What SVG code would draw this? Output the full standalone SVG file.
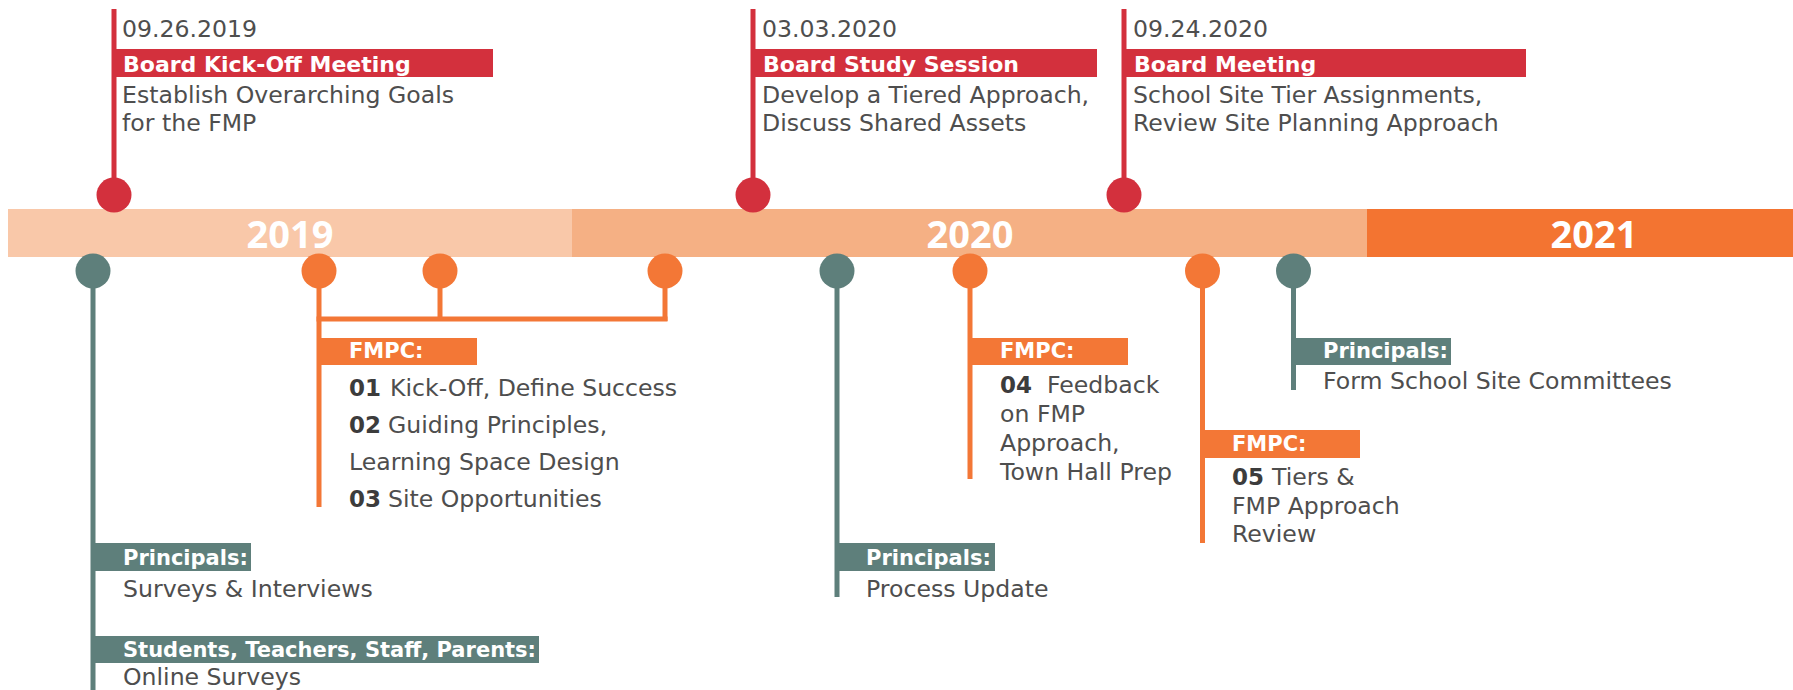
<svg xmlns="http://www.w3.org/2000/svg" width="1793" height="690" viewBox="0 0 1793 690">
<style>
.body{font-family:"DejaVu Sans","Liberation Sans",sans-serif;font-size:23.6px;fill:#4e4e4e}
.num{font-family:"DejaVu Sans","Liberation Sans",sans-serif;font-weight:bold;font-size:23px;fill:#3c3c3c}
.lbl{font-family:"DejaVu Sans","Liberation Sans",sans-serif;font-weight:bold;font-size:21px;fill:#ffffff}
.ttl{font-family:"DejaVu Sans","Liberation Sans",sans-serif;font-weight:bold;font-size:22px;fill:#ffffff}
.year{font-family:"Open Sans","Liberation Sans",sans-serif;font-weight:bold;font-size:38px;fill:#ffffff;text-anchor:middle}
.red{fill:#d3303d}.org{fill:#f37736}.gry{fill:#5e7f7b}
.lr{stroke:#d3303d;stroke-width:5;fill:none}
.lo{stroke:#f37736;stroke-width:5;fill:none}
.lg{stroke:#5e7f7b;stroke-width:5;fill:none}
</style>
<rect width="1793" height="690" fill="#ffffff"/>
<g id="connectors">
<line class="lr" x1="114" y1="9" x2="114" y2="190"/>
<line class="lr" x1="753" y1="9" x2="753" y2="190"/>
<line class="lr" x1="1124" y1="9" x2="1124" y2="190"/>
<line class="lg" x1="93" y1="275" x2="93" y2="690"/>
<line class="lo" x1="319" y1="275" x2="319" y2="507"/>
<line class="lo" x1="440" y1="275" x2="440" y2="319"/>
<line class="lo" x1="665" y1="275" x2="665" y2="321"/>
<line class="lo" x1="316.5" y1="319" x2="667.5" y2="319"/>
<line class="lg" x1="837" y1="275" x2="837" y2="597"/>
<line class="lo" x1="970" y1="275" x2="970" y2="479"/>
<line class="lo" x1="1202.5" y1="275" x2="1202.5" y2="543"/>
<line class="lg" x1="1293.5" y1="275" x2="1293.5" y2="390"/>
</g>
<g id="timeline">
<rect x="8" y="209" width="564" height="48" fill="#f9c8a9"/>
<rect x="572" y="209" width="795" height="48" fill="#f5b084"/>
<rect x="1367" y="209" width="426" height="48" fill="#f37431"/>
<text class="year" x="290" y="248">2019</text>
<text class="year" x="970" y="248">2020</text>
<text class="year" x="1594" y="248">2021</text>
</g>
<g id="event-board-kickoff">
<circle class="red" cx="114" cy="195" r="17.5"/>
<text class="body" x="122" y="37">09.26.2019</text>
<rect class="red" x="114" y="49" width="379" height="28"/>
<text class="ttl" x="123" y="72">Board Kick-Off Meeting</text>
<text class="body" x="122" y="103">Establish Overarching Goals</text>
<text class="body" x="122" y="131">for the FMP</text>
</g>
<g id="event-board-study">
<circle class="red" cx="753" cy="195" r="17.5"/>
<text class="body" x="762" y="37">03.03.2020</text>
<rect class="red" x="753" y="49" width="344" height="28"/>
<text class="ttl" x="763" y="72">Board Study Session</text>
<text class="body" x="762" y="103">Develop a Tiered Approach,</text>
<text class="body" x="762" y="131">Discuss Shared Assets</text>
</g>
<g id="event-board-meeting">
<circle class="red" cx="1124" cy="195" r="17.5"/>
<text class="body" x="1133" y="37">09.24.2020</text>
<rect class="red" x="1124" y="49" width="402" height="28"/>
<text class="ttl" x="1134" y="72">Board Meeting</text>
<text class="body" x="1133" y="103">School Site Tier Assignments,</text>
<text class="body" x="1133" y="131">Review Site Planning Approach</text>
</g>
<g id="principals-surveys">
<circle class="gry" cx="93" cy="271" r="17.5"/>
<rect class="gry" x="93" y="543" width="158" height="28"/>
<text class="lbl" x="123" y="565">Principals:</text>
<text class="body" x="123" y="597">Surveys &amp; Interviews</text>
<rect class="gry" x="93" y="636" width="446" height="27"/>
<text class="lbl" x="123" y="657">Students, Teachers, Staff, Parents:</text>
<text class="body" x="123" y="685">Online Surveys</text>
</g>
<g id="fmpc-1-3">
<circle class="org" cx="319" cy="271" r="17.5"/>
<circle class="org" cx="440" cy="271" r="17.5"/>
<circle class="org" cx="665" cy="271" r="17.5"/>
<rect class="org" x="319" y="338" width="158" height="27"/>
<text class="lbl" x="349" y="358">FMPC:</text>
<text x="349" y="396"><tspan class="num">01</tspan><tspan class="body" x="390">Kick-Off, Define Success</tspan></text>
<text x="349" y="433"><tspan class="num">02</tspan><tspan class="body" x="388">Guiding Principles,</tspan></text>
<text class="body" x="349" y="470">Learning Space Design</text>
<text x="349" y="507"><tspan class="num">03</tspan><tspan class="body" x="388">Site Opportunities</tspan></text>
</g>
<g id="principals-update">
<circle class="gry" cx="837" cy="271" r="17.5"/>
<rect class="gry" x="837" y="543" width="158" height="28"/>
<text class="lbl" x="866" y="565">Principals:</text>
<text class="body" x="866" y="597">Process Update</text>
</g>
<g id="fmpc-4">
<circle class="org" cx="970" cy="271" r="17.5"/>
<rect class="org" x="970" y="338" width="158" height="27"/>
<text class="lbl" x="1000" y="358">FMPC:</text>
<text x="1000" y="393"><tspan class="num">04</tspan><tspan class="body" x="1047">Feedback</tspan></text>
<text class="body" x="1000" y="422">on FMP</text>
<text class="body" x="1000" y="451">Approach,</text>
<text class="body" x="1000" y="480">Town Hall Prep</text>
</g>
<g id="fmpc-5">
<circle class="org" cx="1202.5" cy="271" r="17.5"/>
<rect class="org" x="1202" y="430" width="158" height="28"/>
<text class="lbl" x="1232" y="451">FMPC:</text>
<text x="1232" y="485"><tspan class="num">05</tspan><tspan class="body" x="1272">Tiers &amp;</tspan></text>
<text class="body" x="1232" y="514">FMP Approach</text>
<text class="body" x="1232" y="542">Review</text>
</g>
<g id="principals-committees">
<circle class="gry" cx="1293.5" cy="271" r="17.5"/>
<rect class="gry" x="1293" y="338" width="158" height="27"/>
<text class="lbl" x="1323" y="358">Principals:</text>
<text class="body" x="1323" y="389">Form School Site Committees</text>
</g>
</svg>
